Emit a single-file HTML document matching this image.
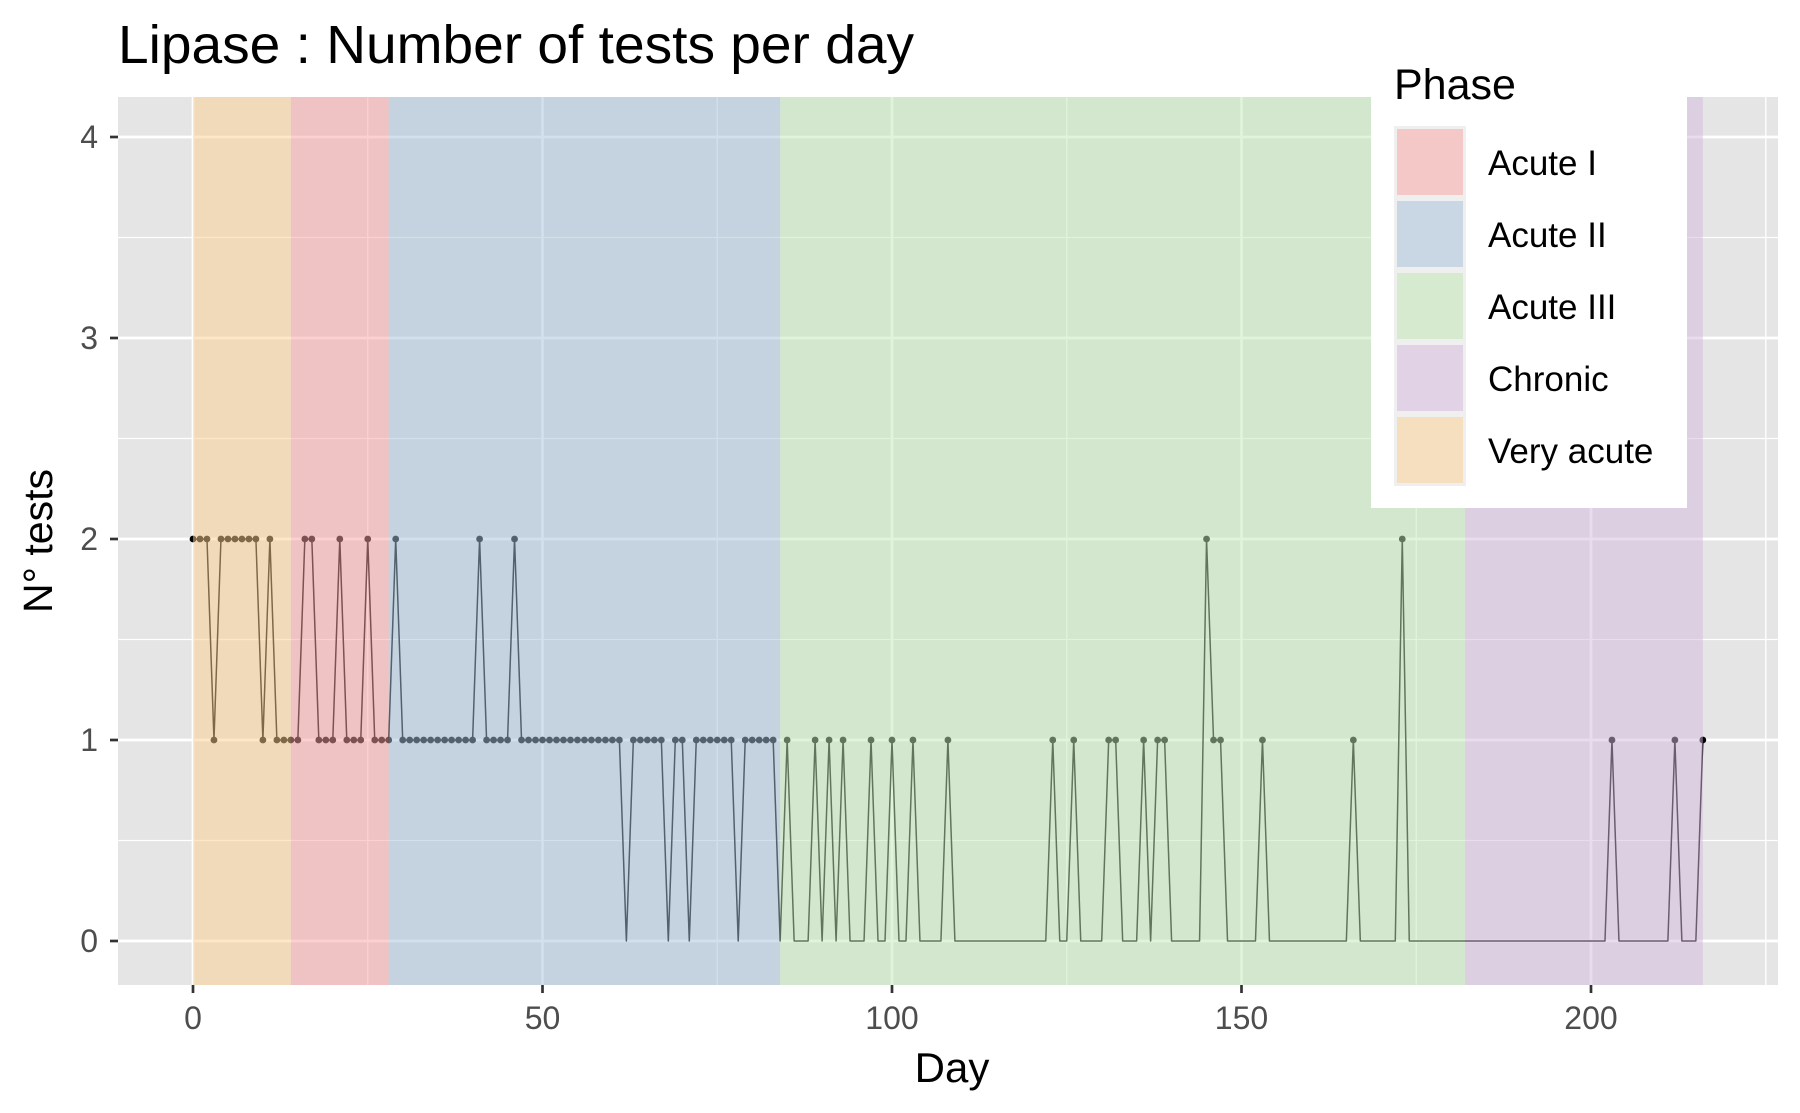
<!DOCTYPE html>
<html><head><meta charset="utf-8"><style>
html,body{margin:0;padding:0;background:#fff;}
svg{display:block;font-family:"Liberation Sans",Arial,sans-serif;}
</style></head><body>
<svg id="chart" width="1800" height="1113" viewBox="0 0 1800 1113" xmlns="http://www.w3.org/2000/svg">
<rect x="0" y="0" width="1800" height="1113" fill="#fff"/>
<text x="118" y="63" font-size="54" textLength="796" lengthAdjust="spacingAndGlyphs" fill="#000">Lipase : Number of tests per day</text>
<rect x="118" y="97" width="1660" height="888" fill="#e5e5e5"/>
<g id="grid"></g>
<g id="series"></g>
<g id="phases"></g>
<g id="axes"></g>
<text x="952" y="1082" font-size="42" text-anchor="middle" fill="#000">Day</text>
<text transform="translate(52,541) rotate(-90)" font-size="41" text-anchor="middle" fill="#000">N° tests</text>
<g id="legend"></g>
</svg>
<script>
const values = [2,2,2,1,2,2,2,2,2,2,1,2,1,1,1,1,2,2,1,1,1,2,1,1,1,2,1,1,1,2,
1,1,1,1,1,1,1,1,1,1,1,2,1,1,1,1,2,
1,1,1,1,1,1,1,1,1,1,1,1,1,1,1,0,
1,1,1,1,1,0,1,1,0,1,1,1,1,1,1,0,1,1,1,1,1,0,
1,0,0,0,1,0,1,0,1,0,0,0,1,0,0,1,0,0,1,0,0,0,0,1,
0,0,0,0,0,0,0,0,0,0,0,0,0,0,1,0,0,1,0,0,0,0,1,1,0,0,0,1,0,1,1,
0,0,0,0,0,2,1,1,0,0,0,0,0,1,
0,0,0,0,0,0,0,0,0,0,0,0,1,0,0,0,0,0,0,2,
0,0,0,0,0,0,0,0,0,0,0,0,0,0,0,0,0,0,0,0,0,0,0,0,0,0,0,0,0,1,
0,0,0,0,0,0,0,0,1,0,0,0,1];
const phaseNames = ["Very acute","Acute I","Acute II","Acute III","Chronic"];
const phaseStart = [0,14,28,84,182];
const phaseEnd = [14,28,84,182,216];
const xTicks = [0,50,100,150,200];
const yTicks = [0,1,2,3,4];
const legendNames = ["Acute I","Acute II","Acute III","Chronic","Very acute"];

const NS="http://www.w3.org/2000/svg";
const PL=118,PR=1778,PT=97,PB=985;
function X(d){return 193+6.99*d;}
function Y(v){return 941-201*v;}
function mk(tag,attrs,parent){const e=document.createElementNS(NS,tag);for(const k in attrs)e.setAttribute(k,attrs[k]);parent.appendChild(e);return e;}
const overlay={"Very acute":"#fed090","Acute I":"#faa2a2","Acute II":"#a6c0da","Acute III":"#c2eaba","Chronic":"#d4bade"};
const legendFill={"Acute I":"#f4c8c6","Acute II":"#c9d7e4","Acute III":"#d6eacf","Chronic":"#e1d3e5","Very acute":"#f6dfbe"};

const grid=document.getElementById('grid');
for(let v=0.5;v<4.2;v+=1){const l=mk('line',{x1:PL,x2:PR,y1:Y(v),y2:Y(v),stroke:'#fff','stroke-width':1.3},grid);

}
for(let d=-25;d<=230;d+=50){if(X(d)<PL||X(d)>PR)continue;const l=mk('line',{x1:X(d),x2:X(d),y1:PT,y2:PB,stroke:'#fff','stroke-width':1.3},grid);

}
yTicks.forEach(v=>{const l=mk('line',{x1:PL,x2:PR,y1:Y(v),y2:Y(v),stroke:'#fff','stroke-width':2.7},grid);

});
xTicks.forEach(d=>{const l=mk('line',{x1:X(d),x2:X(d),y1:PT,y2:PB,stroke:'#fff','stroke-width':2.7},grid);

});

const ser=document.getElementById('series');
const pts=values.map((v,i)=>X(i).toFixed(2)+','+Y(v).toFixed(2)).join(' ');
const line=mk('polyline',{points:pts,fill:'none',stroke:'#000','stroke-width':1.5,'stroke-linejoin':'round'},ser);


values.forEach((v,i)=>{if(v>0){const c=mk('circle',{cx:X(i),cy:Y(v),r:3.4,fill:'#000'},ser);

}});

const ph=document.getElementById('phases');
phaseNames.forEach((n,i)=>{const r=mk('rect',{x:X(phaseStart[i]),y:PT,width:X(phaseEnd[i])-X(phaseStart[i]),height:PB-PT,fill:overlay[n],'fill-opacity':0.5},ph);

});

const ax=document.getElementById('axes');
yTicks.forEach(v=>{const t=mk('line',{x1:110,x2:118,y1:Y(v),y2:Y(v),stroke:'#333','stroke-width':2.7},ax);


const tx=mk('text',{x:98,y:Y(v)+11,'font-size':32,'text-anchor':'end',fill:'#4d4d4d'},ax);tx.textContent=v;

});
xTicks.forEach(d=>{const t=mk('line',{x1:X(d),x2:X(d),y1:985,y2:993,stroke:'#333','stroke-width':2.7},ax);


const tx=mk('text',{x:X(d),y:1029,'font-size':32,'text-anchor':'middle',fill:'#4d4d4d'},ax);tx.textContent=d;

});

const lg=document.getElementById('legend');
const lb=mk('rect',{x:1371,y:40,width:316,height:468,fill:'#fff'},lg);


const lt=mk('text',{x:1394,y:99,'font-size':43,fill:'#000'},lg);lt.textContent='Phase';


legendNames.forEach((n,i)=>{const y0=126+72*i;
const bg=mk('rect',{x:1394,y:y0,width:72,height:72,fill:'#efefef'},lg);


const k=mk('rect',{x:1397,y:y0+3,width:66,height:66,fill:legendFill[n]},lg);


const t=mk('text',{x:1488,y:y0+49,'font-size':35,fill:'#000'},lg);t.textContent=n;

});
</script>
</body></html>
